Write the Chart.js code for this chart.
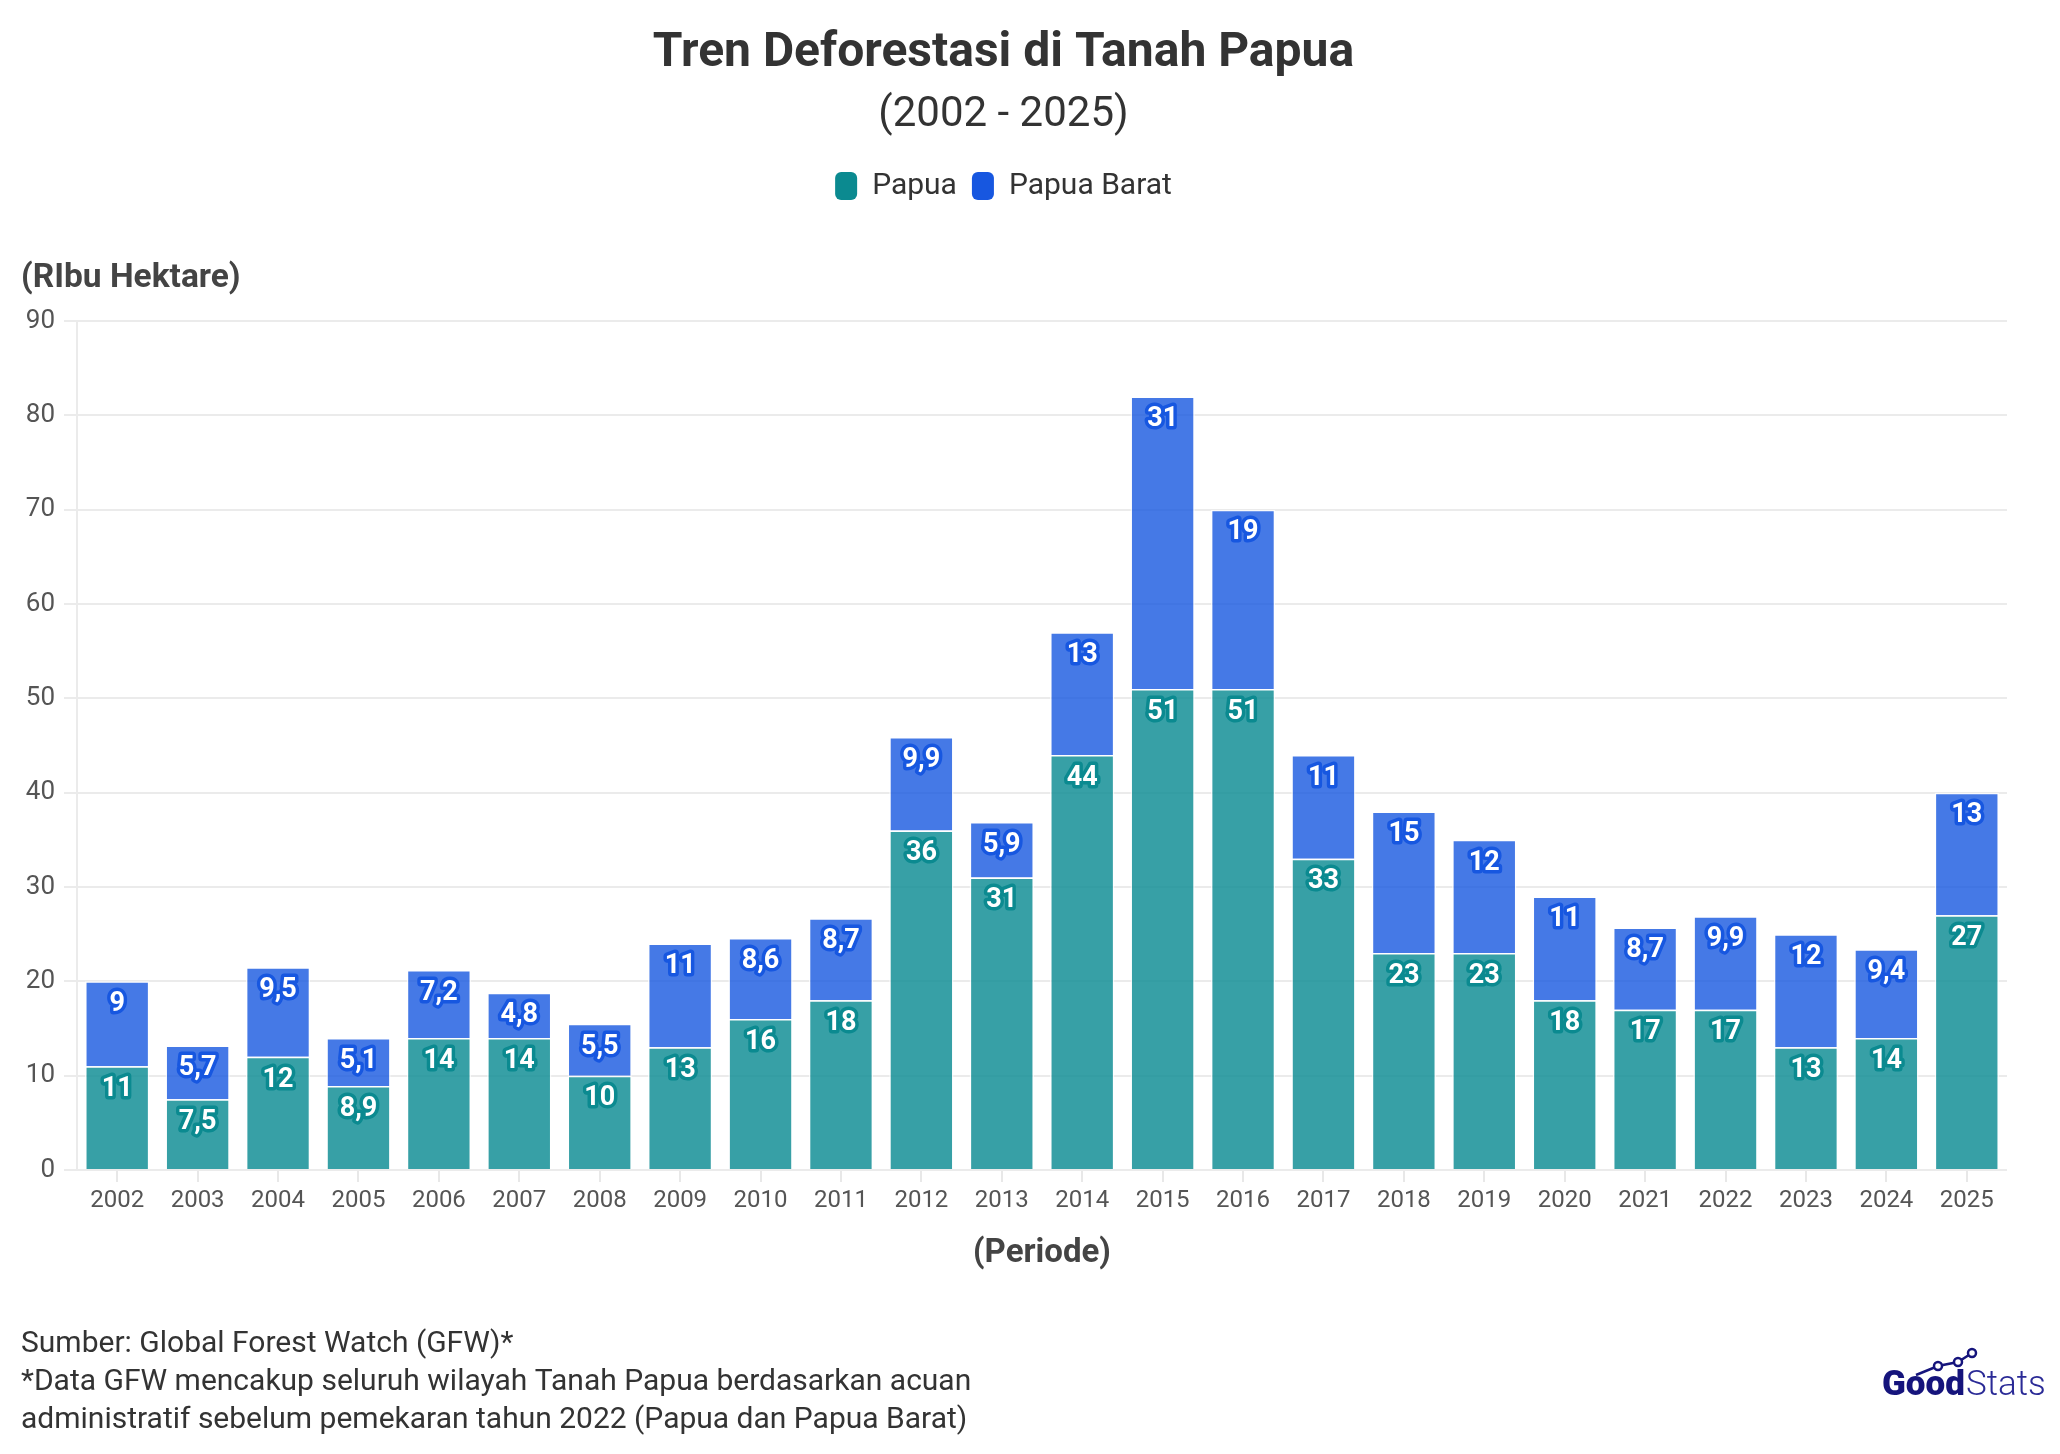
<!DOCTYPE html>
<html>
<head>
<meta charset="utf-8">
<script src="https://cdn.jsdelivr.net/npm/chart.js@4/dist/chart.umd.min.js"></script>
<style>
html,body{margin:0;padding:0;background:#ffffff;}
#wrap{width:2060px;height:1454px;position:relative;}
</style>
</head>
<body>
<div id="wrap"><canvas id="c" width="2060" height="1454"></canvas></div>
<script>
// ---- data ----
const categories = ['2002','2003','2004','2005','2006','2007','2008','2009','2010','2011','2012','2013','2014','2015','2016','2017','2018','2019','2020','2021','2022','2023','2024','2025'];
const papua      = [11, 7.5, 12, 8.9, 14, 14, 10, 13, 16, 18, 36, 31, 44, 51, 51, 33, 23, 23, 18, 17, 17, 13, 14, 27];
const papuaBarat = [9, 5.7, 9.5, 5.1, 7.2, 4.8, 5.5, 11, 8.6, 8.7, 9.9, 5.9, 13, 31, 19, 11, 15, 12, 11, 8.7, 9.9, 12, 9.4, 13];
const seriesNames = ['Papua', 'Papua Barat'];
const yTickMin = 0, yTickMax = 90, yTickStep = 10;

const titleText = 'Tren Deforestasi di Tanah Papua';
const subtitleText = '(2002 - 2025)';
const yAxisTitle = '(RIbu Hektare)';
const xAxisTitle = '(Periode)';
const footerLines = [
  'Sumber: Global Forest Watch (GFW)*',
  '*Data GFW mencakup seluruh wilayah Tanah Papua berdasarkan acuan',
  'administratif sebelum pemekaran tahun 2022 (Papua dan Papua Barat)'
];

// ---- styles ----
const FONT = 'Roboto, "Noto Sans", sans-serif';
const solid = ['#0B8A90', '#1757E0'];
const fills = ['rgba(11,139,146,0.82)', 'rgba(23,88,224,0.8)'];

const fmt = v => String(v).replace('.', ',');

// Extra space between legend and plot area
const legendSpacer = {
  id: 'legendSpacer',
  beforeInit(chart) {
    const lg = chart.legend;
    if (lg && !lg._spacerPatched) {
      const orig = lg.fit.bind(lg);
      lg.fit = function () { orig(); this.height += 110; };
      lg._spacerPatched = true;
    }
  }
};

const barLabels = {
  id: 'barLabels',
  afterDatasetsDraw(chart) {
    const ctx = chart.ctx;
    ctx.save();
    ctx.font = 'bold 27px ' + FONT;
    ctx.textAlign = 'center';
    ctx.textBaseline = 'middle';
    ctx.lineJoin = 'round';
    chart.data.datasets.forEach((ds, di) => {
      const meta = chart.getDatasetMeta(di);
      meta.data.forEach((bar, i) => {
        const t = fmt(ds.data[i]);
        const x = bar.x, y = bar.y + 23;
        ctx.lineWidth = 7;
        ctx.strokeStyle = solid[di];
        ctx.strokeText(t, x, y);
        ctx.fillStyle = '#ffffff';
        ctx.fillText(t, x, y);
      });
    });
    ctx.restore();
  }
};

const extras = {
  id: 'extras',
  afterDraw(chart) {
    const ctx = chart.ctx;
    ctx.save();
    // y axis title
    ctx.fillStyle = '#444444';
    ctx.font = 'bold 33.5px ' + FONT;
    ctx.textAlign = 'left';
    ctx.textBaseline = 'middle';
    ctx.fillText(yAxisTitle, 21, 279);
    // footer
    ctx.fillStyle = '#333333';
    ctx.font = '30px ' + FONT;
    footerLines.forEach((l, i) => ctx.fillText(l, 21, 1344 + i * 38));
    // logo
    const navy = '#15147C';
    ctx.textBaseline = 'alphabetic';
    ctx.font = '900 35px ' + FONT;
    ctx.fillStyle = navy;
    const gx = 1882, gy = 1395;
    ctx.fillText('Good', gx, gy);
    const gw = ctx.measureText('Good').width;
    ctx.font = '300 35px ' + FONT;
    ctx.fillStyle = '#2a2a96';
    ctx.fillText('Stats', gx + gw + 1, gy);
    // logo trend line
    const pts = [[gx + 34, gy - 20], [gx + 56, gy - 29], [gx + 76, gy - 33], [gx + 90, gy - 42]];
    ctx.strokeStyle = navy;
    ctx.lineWidth = 2.5;
    ctx.beginPath();
    pts.forEach((p, i) => i ? ctx.lineTo(p[0], p[1]) : ctx.moveTo(p[0], p[1]));
    ctx.stroke();
    pts.slice(1).forEach(p => {
      ctx.beginPath();
      ctx.arc(p[0], p[1], 4, 0, Math.PI * 2);
      ctx.fillStyle = '#ffffff';
      ctx.fill();
      ctx.stroke();
    });
    ctx.restore();
  }
};

new Chart(document.getElementById('c'), {
  type: 'bar',
  data: {
    labels: categories,
    datasets: [
      { label: seriesNames[0], data: papua, backgroundColor: fills[0], borderColor: 'rgba(255,255,255,0.75)', borderWidth: 1.5, barPercentage: 0.8, categoryPercentage: 1 },
      { label: seriesNames[1], data: papuaBarat, backgroundColor: fills[1], borderColor: 'rgba(255,255,255,0.75)', borderWidth: 1.5, barPercentage: 0.8, categoryPercentage: 1 }
    ]
  },
  options: {
    responsive: false,
    animation: false,
    devicePixelRatio: 1,
    layout: { padding: { top: 0, left: 0, right: 53, bottom: 174 } },
    plugins: {
      tooltip: { enabled: false },
      title: {
        display: true, text: titleText, color: '#333333',
        font: { family: FONT, size: 48, weight: 'bold' },
        padding: { top: 25, bottom: 8 }
      },
      subtitle: {
        display: true, text: subtitleText, color: '#333333',
        font: { family: FONT, size: 42, weight: 'normal' },
        padding: { top: 0, bottom: 15 }
      },
      legend: {
        display: true, position: 'top', align: 'center',
        labels: {
          color: '#333333',
          font: { family: FONT, size: 30 },
          boxWidth: 22, boxHeight: 28, padding: 15,
          useBorderRadius: true, borderRadius: 6,
          generateLabels(chart) {
            const items = Chart.defaults.plugins.legend.labels.generateLabels(chart);
            items.forEach((it, i) => { it.fillStyle = solid[i]; it.strokeStyle = solid[i]; it.lineWidth = 0; });
            return items;
          }
        }
      }
    },
    scales: {
      x: {
        stacked: true,
        grid: { display: true, drawOnChartArea: false, drawTicks: true, tickLength: 12, offset: false, color: '#e8e8e8', lineWidth: 2 },
        border: { display: false },
        ticks: { color: '#555555', font: { family: FONT, size: 24 }, padding: 5, maxRotation: 0, autoSkip: false },
        title: { display: true, text: xAxisTitle, color: '#444444', font: { family: FONT, size: 33, weight: 'bold' }, padding: { top: 0, bottom: 6 } },
        afterFit(scale) { scale.height = 110; }
      },
      y: {
        stacked: true,
        min: yTickMin, max: yTickMax,
        grid: { color: '#ebebeb', lineWidth: 2, drawTicks: true, tickLength: 13 },
        border: { display: true, color: '#ebebeb', width: 2 },
        ticks: { stepSize: yTickStep, color: '#555555', font: { family: FONT, size: 26 }, padding: 9 },
        afterFit(scale) { scale.width = 77; }
      }
    }
  },
  plugins: [legendSpacer, barLabels, extras]
});
</script>
</body>
</html>
